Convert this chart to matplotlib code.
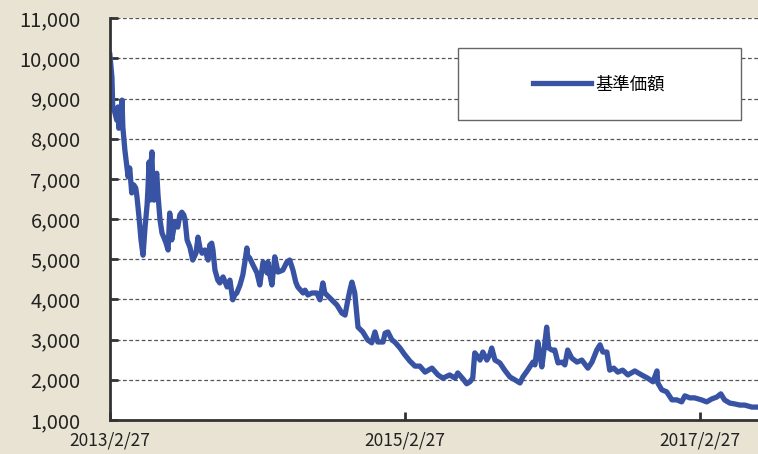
import pandas as pd
import matplotlib
matplotlib.use('Agg')
import matplotlib.pyplot as plt
from matplotlib.patches import Rectangle

plt.rcParams['font.family'] = ['Noto Sans CJK JP', 'DejaVu Sans']

# 基準価額 (days since 2013/2/27, value)
start = pd.Timestamp('2013-02-27')
days = [0, 5, 7, 12, 17, 20, 22, 25, 27, 30, 32, 37, 42, 45, 49, 54, 59, 64, 67, 72,
        77, 82, 87, 92, 94, 97, 99, 101, 104, 106, 109, 111, 116, 119, 124, 129, 134, 139, 144, 148,
        151, 153, 161, 168, 173, 178, 183, 186, 191, 198, 205, 213, 218, 223, 228, 235, 243, 247, 252, 255,
        260, 267, 272, 280, 290, 297, 304, 309, 314, 322, 329, 334, 339, 341, 346, 354, 364, 371, 379, 389,
        391, 396, 401, 408, 416, 428, 438, 445, 453, 460, 465, 478, 483, 490, 500, 512, 520, 527, 532, 537,
        549, 562, 574, 582, 589, 594, 599, 606, 611, 614, 626, 638, 648, 656, 663, 676, 681, 688, 698, 705,
        718, 730, 742, 755, 767, 780, 797, 812, 824, 841, 854, 861, 874, 883, 891, 898, 903, 911, 916, 923,
        933, 940, 945, 953, 965, 977, 990, 1002, 1015, 1022, 1034, 1047, 1052, 1059, 1064, 1069, 1076, 1081, 1086, 1094,
        1101, 1109, 1119, 1126, 1133, 1143, 1156, 1168, 1183, 1193, 1205, 1213, 1220, 1230, 1237, 1247, 1257, 1269, 1282, 1299,
        1316, 1331, 1344, 1354, 1356, 1366, 1378, 1391, 1403, 1415, 1423, 1435, 1447, 1464, 1477, 1489, 1502, 1512, 1521, 1534,
        1546, 1559, 1571, 1589, 1601]
nav = [10080, 9530, 8790, 8660, 8460, 8790, 8260, 8660, 8510, 8960, 8290, 7720, 7290, 7050, 7270, 6650, 6850, 6770, 6550, 6050,
       5480, 5100, 5800, 6350, 6720, 7420, 6470, 7220, 7670, 6850, 6470, 6970, 7140, 6600, 5980, 5650, 5530, 5400, 5230, 6150,
       5850, 5480, 5930, 5800, 6100, 6170, 6100, 5980, 5480, 5300, 4980, 5150, 5550, 5280, 5150, 5230, 4980, 5350, 5400, 5230,
       4730, 4480, 4410, 4560, 4310, 4480, 3990, 4110, 4160, 4360, 4610, 4930, 5280, 5080, 5030, 4860, 4660, 4360, 4930, 4660,
       4930, 4610, 4360, 5060, 4680, 4730, 4930, 4980, 4730, 4430, 4310, 4160, 4230, 4110, 4160, 4160, 3990, 4410, 4160, 4110,
       3990, 3860, 3660, 3610, 3990, 4230, 4430, 4160, 3610, 3310, 3190, 2990, 2920, 3190, 2940, 2940, 3160, 3190, 2990, 2940,
       2790, 2620, 2470, 2340, 2340, 2190, 2290, 2120, 2040, 2120, 2040, 2170, 2020, 1900, 1950, 2040, 2670, 2570, 2490, 2690,
       2490, 2620, 2790, 2490, 2420, 2240, 2070, 2000, 1920, 2070, 2240, 2440, 2370, 2940, 2620, 2320, 2870, 3310, 2790, 2740,
       2740, 2420, 2440, 2370, 2740, 2540, 2440, 2490, 2290, 2440, 2740, 2870, 2690, 2690, 2240, 2290, 2190, 2240, 2120, 2220,
       2120, 2040, 1950, 2220, 1920, 1750, 1700, 1500, 1500, 1450, 1600, 1550, 1550, 1500, 1450, 1520, 1570, 1650, 1500, 1420,
       1400, 1370, 1370, 1320, 1320]
tick_dates = ['2013-02-27', '2015-02-27', '2017-02-27']
tick_labels = ['2013/2/27', '2015/2/27', '2017/2/27']

dates = start + pd.to_timedelta(days, unit='D')

fig = plt.figure(figsize=(7.58, 4.54), dpi=100, facecolor='#e9e3d3')
ax = fig.add_axes([0.145, 0.075, 0.855, 0.885])
ax.set_facecolor('white')

ax.plot(dates, nav, color='#3953a4', lw=3.8, solid_joinstyle='round', label='基準価額')

ax.set_ylim(1000, 11000)
ax.set_yticks(range(1000, 11001, 1000))
ax.set_yticklabels([f'{v:,}' for v in range(1000, 11001, 1000)])
ax.set_xlim(start, start + pd.Timedelta(days=1604))
ax.set_xticks(pd.to_datetime(tick_dates))
ax.set_xticklabels(tick_labels)

ax.grid(axis='y', color='#555555', linestyle=(0, (3, 2)), linewidth=0.9)
ax.set_axisbelow(True)

for s in ['top', 'right']:
    ax.spines[s].set_visible(False)
for s in ['left', 'bottom']:
    ax.spines[s].set_linewidth(2)
    ax.spines[s].set_color('#333333')

ax.tick_params(axis='y', direction='in', length=6, width=2, color='#333333', pad=21,
               labelsize=14.5, labelcolor='#222222')
ax.tick_params(axis='x', direction='in', length=6, width=2, color='#333333', pad=8,
               labelsize=12.5, labelcolor='#222222')

# 凡例の枠
ax.add_patch(Rectangle((0.537, 0.746), 0.437, 0.179, transform=ax.transAxes,
                       facecolor='white', edgecolor='#666666', lw=1, zorder=5))
leg = ax.legend(loc='center', bbox_to_anchor=(0.755, 0.835), frameon=False,
                fontsize=12.5, handlelength=3.3, handletextpad=0.3)
leg.set_zorder(6)

fig.savefig('out.png', dpi=100, facecolor=fig.get_facecolor())
